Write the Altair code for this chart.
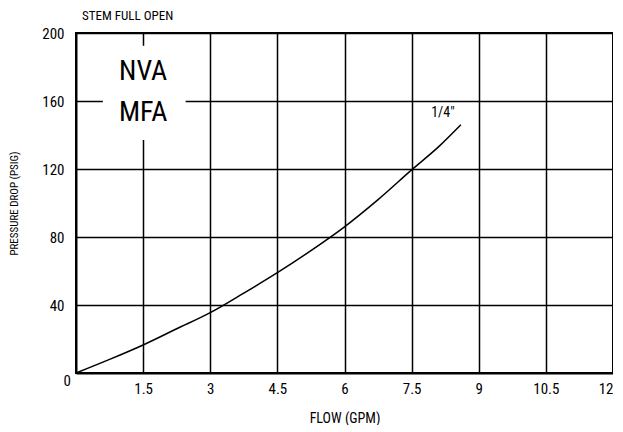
import altair as alt
import pandas as pd

# Data
flow = [0, 0.75, 1.5, 2.25, 3, 3.75, 4.5, 5.25, 6, 6.75, 7.5, 8.1, 8.6]
pressure = [0, 8, 16.5, 26, 35.5, 47, 59, 72, 86, 102, 119.5, 133, 146]
x_ticks = [1.5, 3, 4.5, 6, 7.5, 9, 10.5, 12]
y_ticks = [40, 80, 120, 160, 200]
box_labels = ["NVA", "MFA"]
box_label_x = [1.5, 1.5]
box_label_y = [177, 153]
box_x = [0.6]
box_x2 = [2.45]
box_y = [137]
box_y2 = [192.5]
curve_label = ['1/4"']
curve_label_x = [8.2]
curve_label_y = [152.7]
origin_label = ["0"]

FONT = "Roboto Condensed, Liberation Sans Narrow, DejaVu Sans Condensed, Roboto, sans-serif"

xs = alt.Scale(domain=[0, 12], nice=False, zero=False)
ys = alt.Scale(domain=[0, 200], nice=False, zero=False)

curve_df = pd.DataFrame({"flow": flow, "pressure": pressure})

line = alt.Chart(curve_df).mark_line(
    color="black", strokeWidth=1.5, interpolate="monotone"
).encode(
    x=alt.X("flow:Q", scale=xs,
            axis=alt.Axis(values=x_ticks, format=".1~f", title="FLOW (GPM)",
                          labelPadding=8, titlePadding=15, titleFontSize=14)),
    y=alt.Y("pressure:Q", scale=ys,
            axis=alt.Axis(values=y_ticks, title="PRESSURE DROP (PSIG)",
                          labelPadding=12, titlePadding=22, titleFontSize=11)),
)

box_df = pd.DataFrame({"x": box_x, "x2": box_x2, "y": box_y, "y2": box_y2})
box = alt.Chart(box_df).mark_rect(fill="white").encode(
    x=alt.X("x:Q", scale=xs), x2="x2:Q",
    y=alt.Y("y:Q", scale=ys), y2="y2:Q",
)

nm_df = pd.DataFrame({"t": box_labels, "x": box_label_x, "y": box_label_y})
nm = alt.Chart(nm_df).mark_text(
    font=FONT, fontSize=28, color="black", baseline="middle", align="center"
).encode(x=alt.X("x:Q", scale=xs), y=alt.Y("y:Q", scale=ys), text="t:N")

cl_df = pd.DataFrame({"t": curve_label, "x": curve_label_x, "y": curve_label_y})
cl = alt.Chart(cl_df).mark_text(
    font=FONT, fontSize=14, color="black", baseline="middle", align="center"
).encode(x=alt.X("x:Q", scale=xs), y=alt.Y("y:Q", scale=ys), text="t:N")

o_df = pd.DataFrame({"t": origin_label, "x": [0], "y": [0]})
ol = alt.Chart(o_df).mark_text(
    font=FONT, fontSize=15, color="black", baseline="middle", align="right",
    dx=-5, dy=8
).encode(x=alt.X("x:Q", scale=xs), y=alt.Y("y:Q", scale=ys), text="t:N")

chart = alt.layer(box, line, nm, cl, ol).properties(
    width=537, height=340,
    title=alt.TitleParams("STEM FULL OPEN", anchor="start", frame="group",
                          font=FONT, fontSize=13, fontWeight="normal",
                          color="black", dx=6, offset=3),
    padding={"left": 0, "top": 2, "right": 0, "bottom": 0},
).configure_view(
    stroke="black", strokeWidth=2
).configure_axis(
    domainColor="black", domainWidth=2, grid=True, gridColor="black",
    gridWidth=1.5, gridOpacity=1, ticks=False, labelFont=FONT,
    labelFontSize=15, labelColor="black", titleFont=FONT,
    titleFontWeight="normal", titleColor="black",
)

chart.save("out.html", embed_options={"renderer": "svg", "actions": False})
